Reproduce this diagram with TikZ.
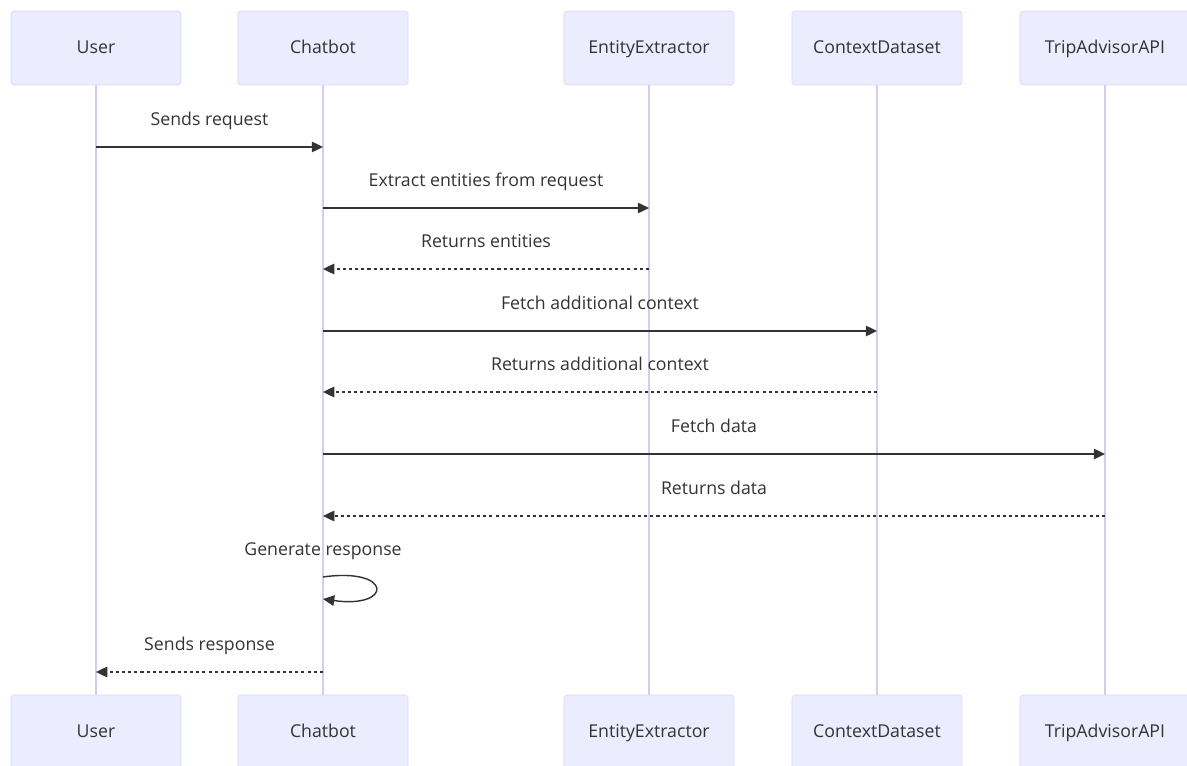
\documentclass[tikz,border=0pt]{standalone}
\usepackage{fontspec}
\setmainfont{Open Sans}
\usetikzlibrary{arrows.meta, positioning}
\definecolor{actorfill}{HTML}{ECECFF}
\definecolor{actorline}{HTML}{DCD6F7}
\definecolor{lifecol}{HTML}{D4CBF0}
\definecolor{msgcol}{HTML}{333333}
\tikzstyle{actor} = [rectangle, rounded corners=2pt, draw=actorline, fill=actorfill, minimum width=4.25cm, minimum height=1.85cm, text=msgcol, text height=1.7ex, text depth=0.3ex, font=\fontsize{12.6}{14}\selectfont]
\tikzstyle{lifeline} = [draw=lifecol, line width=1.1pt]
\tikzstyle{msg} = [draw=msgcol, line width=1pt, -{Triangle[length=8pt,width=7.5pt]}]
\tikzstyle{reply} = [msg, dash pattern=on 2.2pt off 2.2pt]
\tikzstyle{msglabel} = [yshift=0.68cm, text=msgcol, text height=1.8ex, text depth=0.2ex, font=\fontsize{12.6}{14}\selectfont]

\begin{document}
\begin{tikzpicture}[x=0.025cm, y=-0.025cm]
\useasboundingbox (0,0) rectangle (1187,766);
%----------------------------------------------------------------------------
% Participants and lifelines
\foreach \name/\txt/\x in {user/User/96, chatbot/Chatbot/323, extractor/EntityExtractor/649, context/ContextDataset/877, trip/TripAdvisorAPI/1105} {
  \node (\name Top) [actor] at (\x,48) {\txt};
  \node (\name Bot) [actor] at (\x,732) {\txt};
  \draw [lifeline] (\name Top) -- (\name Bot);
}

%----------------------------------------------------------------------------
% Message rows
\coordinate (r1) at (0,147);
\coordinate (r2) at (0,208);
\coordinate (r3) at (0,269);
\coordinate (r4) at (0,331);
\coordinate (r5) at (0,392);
\coordinate (r6) at (0,454);
\coordinate (r7) at (0,516);
\coordinate (r8) at (0,577);
\coordinate (r9) at (0,672);

%----------------------------------------------------------------------------
% Messages
\draw [msg] (userTop |- r1) -- (chatbotTop |- r1) node [msglabel, midway] {Sends request};
\draw [msg] (chatbotTop |- r2) -- (extractorTop |- r2) node [msglabel, midway] {Extract entities from request};
\draw [reply] (extractorTop |- r3) -- (chatbotTop |- r3) node [msglabel, midway] {Returns entities};
\draw [msg] (chatbotTop |- r4) -- (contextTop |- r4) node [msglabel, midway] {Fetch additional context};
\draw [reply] (contextTop |- r5) -- (chatbotTop |- r5) node [msglabel, midway] {Returns additional context};
\draw [msg] (chatbotTop |- r6) -- (tripTop |- r6) node [msglabel, midway] {Fetch data};
\draw [reply] (tripTop |- r7) -- (chatbotTop |- r7) node [msglabel, midway] {Returns data};

% self call
\node [msglabel] (genLabel) at (chatbotTop |- r8) {Generate response};
\draw [msg] (chatbotTop |- r8) .. controls +(70,-10) and +(70,10) .. ([yshift=-0.55cm] chatbotTop |- r8);

\draw [reply] (chatbotTop |- r9) -- (userTop |- r9) node [msglabel, midway] {Sends response};
\end{tikzpicture}
\end{document}
